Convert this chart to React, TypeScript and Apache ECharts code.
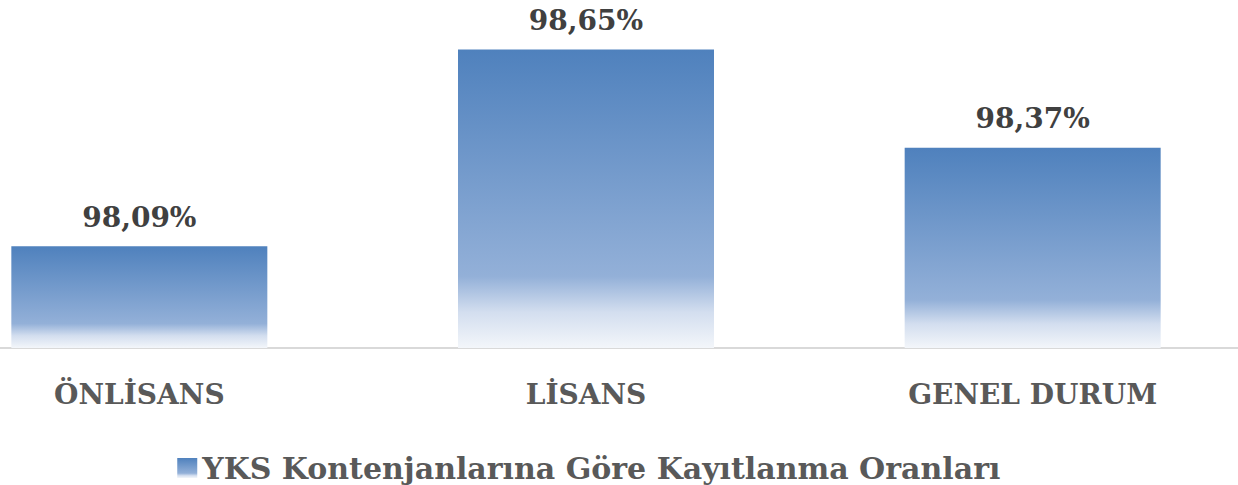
import React, { useEffect, useRef } from "react";
import * as echarts from "echarts";

const categories = ["ÖNLİSANS", "LİSANS", "GENEL DURUM"];
const values = [98.09, 98.65, 98.37];
const seriesName = "YKS Kontenjanlarına Göre Kayıtlanma Oranları";

const FONT = "'DejaVu Serif', serif";
const SHIFT = 84.25;
const CHART_W = 1339.5;

export default function App() {
  const ref = useRef<HTMLDivElement>(null);
  useEffect(() => {
    document.body.style.margin = "0";
    const chart = echarts.init(ref.current!, null, { renderer: "svg" });
    const grad = new echarts.graphic.LinearGradient(0, 0, 0, 1, [
      { offset: 0, color: "#4f81bd" },
      { offset: 0.76, color: "#93b0d8" },
      { offset: 0.88, color: "#d3deef" },
      { offset: 1, color: "#f3f6fa" },
    ]);
    chart.setOption({
      animation: false,
      grid: { left: 0, right: 0, top: 32, bottom: 137, containLabel: false },
      legend: {
        left: 172 + SHIFT,
        top: 448,
        icon: "rect",
        itemWidth: 20,
        itemHeight: 20,
        itemGap: 8,
        textStyle: { fontFamily: FONT, fontWeight: "bold", fontSize: 30, color: "#595959" },
        data: [seriesName],
      },
      xAxis: {
        type: "category",
        data: categories,
        axisLine: { lineStyle: { color: "#d9d9d9", width: 2 } },
        axisTick: { show: false },
        axisLabel: {
          margin: 32,
          fontFamily: FONT,
          fontWeight: "bold",
          fontSize: 28,
          color: "#595959",
        },
      },
      yAxis: {
        type: "value",
        min: 97.8,
        max: 98.7,
        show: false,
        splitLine: { show: false },
      },
      series: [
        {
          name: seriesName,
          type: "bar",
          data: values,
          barWidth: 256,
          itemStyle: { color: grad },
          label: {
            show: true,
            position: "top",
            distance: 15,
            fontFamily: FONT,
            fontWeight: "bold",
            fontSize: 28,
            color: "#404040",
            formatter: (p: any) => p.value.toFixed(2).replace(".", ",") + "%",
          },
        },
      ],
    });
    return () => chart.dispose();
  }, []);
  return (
    <div style={{ width: 1238, height: 485, overflow: "hidden", position: "relative" }}>
      <div
        ref={ref}
        style={{ position: "absolute", left: -SHIFT, top: 0, width: CHART_W, height: 485 }}
      />
    </div>
  );
}
